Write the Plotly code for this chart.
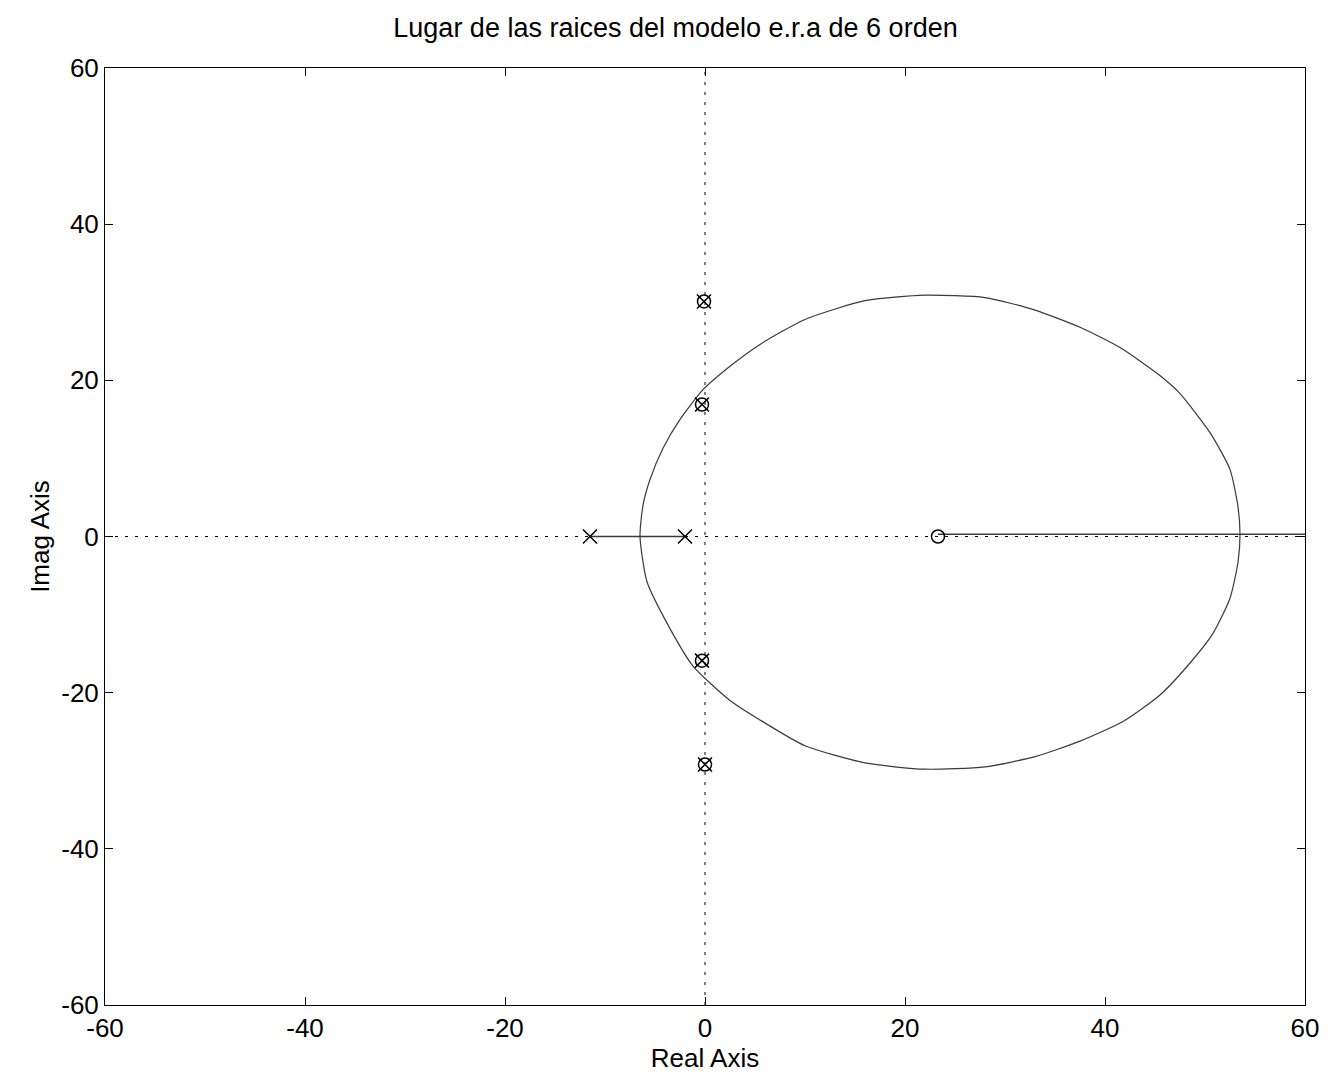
import plotly.graph_objects as go

# Poles (x) and zeros (o)
pole_re = [-11.5, -2.0, -0.1, -0.3, -0.3, 0.0]
pole_im = [0.0, 0.0, 30.1, 16.9, -15.9, -29.2]
zero_re = [23.3, -0.1, -0.3, -0.3, 0.0]
zero_im = [0.0, 30.1, 16.9, -15.9, -29.2]

# Locus branches
circ_re = [-6.5, -6.2, -5.5, -4.2, -2.5, -0.2, 2.5, 5.5, 10.0, 16.0, 22.0, 28.0,
           33.0, 37.5, 41.5, 45.3, 47.5, 50.5, 52.5, 53.3, 53.5,
           53.3, 52.5, 50.8, 48.5, 45.5, 41.8, 37.5, 33.0, 28.0, 22.0, 16.0,
           10.0, 5.5, 2.5, -1.2, -3.5, -5.8, -6.5]
circ_im = [0.0, 4.0, 7.3, 11.3, 15.0, 18.8, 21.8, 24.6, 27.8, 30.2, 30.9, 30.6,
           29.0, 26.8, 24.2, 20.8, 18.3, 13.3, 8.6, 3.8, 0.3,
           -3.3, -7.9, -12.4, -16.2, -20.3, -23.7, -26.2, -28.2, -29.5, -29.8, -29.0,
           -26.8, -23.5, -21.0, -16.6, -11.8, -5.8, 0.0]
seg1_re = [-11.5, -2.0]
seg1_im = [0.0, 0.0]
seg2_re = [23.3, 60.0]
seg2_im = [0.3, 0.3]

xticks = [-60, -40, -20, 0, 20, 40, 60]
yticks = [-60, -40, -20, 0, 20, 40, 60]

fig = go.Figure()
line_col = "#3a3a3a"
# dotted axes through origin
fig.add_trace(go.Scatter(x=[-60, 60], y=[0, 0], mode="lines",
                         line=dict(color="black", width=1, dash="3px,7px"), hoverinfo="skip"))
fig.add_trace(go.Scatter(x=[0, 0], y=[-60, 60], mode="lines",
                         line=dict(color="black", width=1, dash="3px,7px"), hoverinfo="skip"))
fig.add_trace(go.Scatter(x=circ_re, y=circ_im, mode="lines",
                         line=dict(color=line_col, width=1.2, shape="spline", smoothing=0.6),
                         hoverinfo="skip"))
fig.add_trace(go.Scatter(x=seg1_re, y=seg1_im, mode="lines",
                         line=dict(color=line_col, width=1.5), hoverinfo="skip"))
fig.add_trace(go.Scatter(x=seg2_re, y=seg2_im, mode="lines",
                         line=dict(color=line_col, width=1.5), hoverinfo="skip"))
fig.add_trace(go.Scatter(x=pole_re, y=pole_im, mode="markers",
                         marker=dict(symbol="x-thin-open", size=14, color="black",
                                     line=dict(color="black", width=1.5))))
fig.add_trace(go.Scatter(x=zero_re, y=zero_im, mode="markers",
                         marker=dict(symbol="circle-open", size=13, color="black",
                                     line=dict(color="black", width=1.5))))

font = dict(family="Liberation Sans, Arial, sans-serif", color="black")
fs = 26
fig.update_layout(
    width=1335, height=1087,
    margin=dict(l=97, r=38, t=60, b=90),
    paper_bgcolor="white", plot_bgcolor="white",
    showlegend=False,
    title=dict(text="Lugar de las raices del modelo e.r.a de 6 orden",
               x=0.5, xanchor="center", y=0.982, yanchor="middle",
               font=dict(size=27, **font)),
    font=dict(size=fs, **font),
)
fig.update_xaxes(range=[-60, 60], tickvals=xticks, ticktext=[str(v) for v in xticks],
                 ticks="inside", ticklen=8, tickcolor="black", showgrid=False,
                 zeroline=False, showline=True, linecolor="black", linewidth=1,
                 mirror="ticks", tickfont=dict(size=fs, **font),
                 title=dict(text="Real Axis", font=dict(size=fs, **font), standoff=2))
fig.update_yaxes(range=[-60, 60], tickvals=yticks, ticktext=[str(v) for v in yticks],
                 ticks="inside", ticklen=8, tickcolor="black", showgrid=False,
                 zeroline=False, showline=True, linecolor="black", linewidth=1,
                 mirror="ticks", tickfont=dict(size=fs, **font),
                 title=dict(text="Imag Axis", font=dict(size=fs, **font), standoff=4))

fig.write_html("out.html")
